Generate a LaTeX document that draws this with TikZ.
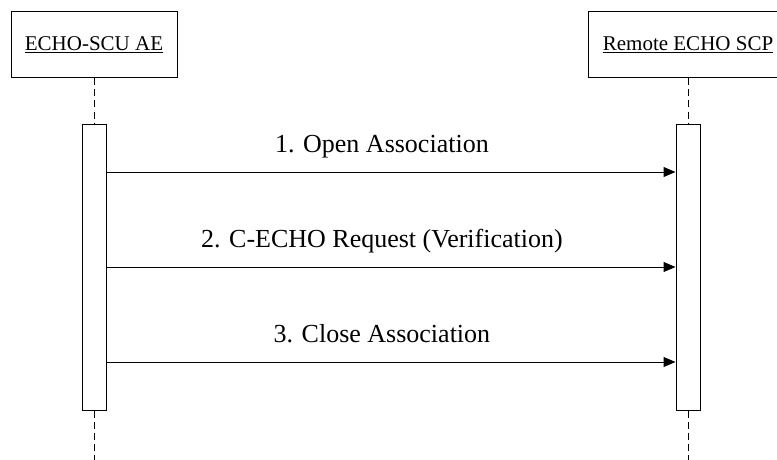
\documentclass[tikz,border=0pt]{standalone}
\usepackage{fontspec}
\setmainfont{Liberation Serif}
\usetikzlibrary{arrows.meta}

\tikzset{
    actor/.style={draw, line width=1pt, minimum height=66pt, inner sep=0pt,
        font=\fontsize{21}{24}\selectfont},
    activation/.style={draw, line width=1pt, fill=white, minimum width=24pt,
        minimum height=286pt, inner sep=0pt},
    lifeline/.style={line width=1pt, dash pattern=on 7pt off 4pt},
    msg/.style={line width=1pt, -{Triangle[length=12pt,width=10pt]}},
    msglabel/.style={anchor=base, yshift=20pt, font=\fontsize{26}{30}\selectfont}
}

\begin{document}
\begin{tikzpicture}[x=1pt, y=-1pt]
        \clip (0,0) rectangle (777,460);
        \fill [white] (0,0) rectangle (777,460);
        \node [actor, minimum width=166pt] (scu) at (94,45) {\underline{ECHO-SCU AE}};
        \node [actor, minimum width=200pt] (scp) at (688,45) {\underline{Remote ECHO SCP}};
        \node [activation] (scubar) at (94,267) {};
        \node [activation] (scpbar) at (688,267) {};
        \coordinate (scuend) at (94,460);
        \coordinate (scpend) at (688,460);
        \draw [lifeline] (scu.south) -- (scubar.north);
        \draw [lifeline] (scubar.south) -- (scuend);
        \draw [lifeline] (scp.south) -- (scpbar.north);
        \draw [lifeline] (scpbar.south) -- (scpend);
        \coordinate (m1) at (0,172);
        \coordinate (m2) at (0,267);
        \coordinate (m3) at (0,362);
        \draw [msg] (scubar.east |- m1) -- (scpbar.west |- m1) node[msglabel,
            pos=0.484]{1. Open Association};
        \draw [msg] (scubar.east |- m2) -- (scpbar.west |- m2) node[msglabel,
            pos=0.484]{2. C-ECHO Request (Verification)};
        \draw [msg] (scubar.east |- m3) -- (scpbar.west |- m3) node[msglabel,
            pos=0.484]{3. Close Association};
    \end{tikzpicture}
\end{document}
